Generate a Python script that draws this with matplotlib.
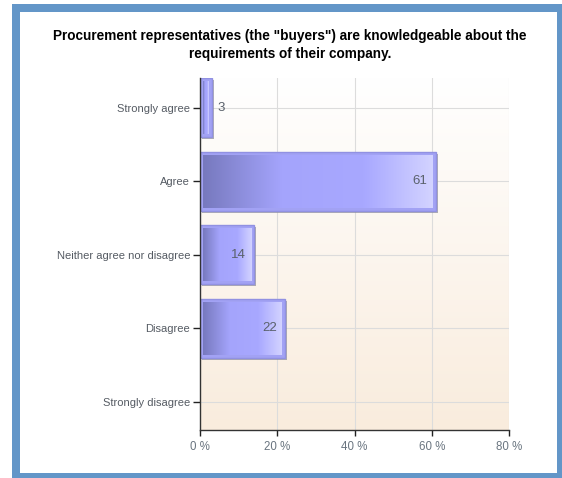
import numpy as np
import matplotlib
matplotlib.use("Agg")
import matplotlib.pyplot as plt
import matplotlib.transforms as mtransforms
from matplotlib.patches import Rectangle
from matplotlib.colors import LinearSegmentedColormap

categories = ["Strongly agree", "Agree", "Neither agree nor disagree",
              "Disagree", "Strongly disagree"]
percentages = [3, 61, 14, 22, 0]
x_ticks = [0, 20, 40, 60, 80]
x_tick_labels = ["0 %", "20 %", "40 %", "60 %", "80 %"]
title = ('Procurement representatives (the "buyers") are knowledgeable about the\n'
         'requirements of their company.')

plt.rcParams['font.family'] = ['Liberation Sans', 'DejaVu Sans']

W, H = 562, 478
fig = plt.figure(figsize=(W / 100, H / 100), dpi=100)

# blue frame with white panel inside
fig.patches.append(Rectangle((12 / W, 0), 1, (H - 4) / H, transform=fig.transFigure,
                             facecolor="#6396C8", edgecolor="none", zorder=-3))
fig.patches.append(Rectangle((20 / W, 5 / H), 537 / W, 461 / H, transform=fig.transFigure,
                             facecolor="white", edgecolor="none", zorder=-2))

fig.text(290 / W, 1 - 45 / H, title, ha="center", va="center", fontsize=9.8,
         fontweight="bold", color="black", linespacing=1.3)

ax = fig.add_axes([200 / W, 48 / H, 309 / W, 352 / H])
ax.patch.set_alpha(0)

# plot area background: white at the top fading to a light peach
top = np.array([255, 255, 255]) / 255
bottom = np.array([249, 236, 221]) / 255
t = np.linspace(0, 1, 256)[:, None, None]
bg = top * (1 - t) + bottom * t
ax.imshow(bg, extent=[0, 1, 0, 1], transform=ax.transAxes, aspect="auto",
          zorder=0, interpolation="bilinear")

xmin, xmax = 0, 80
ytop, ybot = -0.404, 4.385
ax.set_xlim(xmin, xmax)
ax.set_ylim(ybot, ytop)

# pixel -> data conversions for the insets
px_x = (xmax - xmin) / 309
px_y = (ybot - ytop) / 352

bar_cmap = LinearSegmentedColormap.from_list(
    "bar", [(0, "#7779BE"), (0.34, "#A4A4FC"), (0.7, "#A8A8FF"), (1.0, "#D3D3FF")])
grad = bar_cmap(np.linspace(0, 1, 256))[None, :, :]

shadow_tr = mtransforms.offset_copy(ax.transData, fig, x=2, y=-2, units="dots")
bh = 0.8
for i, v in enumerate(percentages):
    if v <= 0:
        continue
    ax.add_patch(Rectangle((0, i - bh / 2), v, bh, transform=shadow_tr,
                           facecolor="#8c8c96", edgecolor="none", alpha=0.7, zorder=2))
    ax.add_patch(Rectangle((0, i - bh / 2), v, bh, facecolor="#A2A2F4",
                           edgecolor="#9191E2", lw=1, zorder=3))
    ax.imshow(grad, extent=[3 * px_x, v - 3 * px_x, i + bh / 2 - 3 * px_y, i - bh / 2 + 3 * px_y],
              aspect="auto", zorder=4, interpolation="bilinear")
    if v >= 5:
        ax.text(v - 8 * px_x, i, str(v), ha="right", va="center", fontsize=9.5,
                color="#5A616B", zorder=5)
    else:
        ax.text(v + 6 * px_x, i, str(v), ha="left", va="center", fontsize=9.5,
                color="#5A616B", zorder=5)

ax.set_xlim(xmin, xmax)
ax.set_ylim(ybot, ytop)

ax.set_yticks(range(len(categories)))
ax.set_yticklabels(categories)
ax.set_xticks(x_ticks)
ax.set_xticklabels(x_tick_labels)

ax.set_axisbelow(True)
ax.grid(True, color="#DCDCDC", lw=0.8, zorder=1)
for s in ["top", "right"]:
    ax.spines[s].set_visible(False)
for s in ["left", "bottom"]:
    ax.spines[s].set_color("#333333")
    ax.spines[s].set_linewidth(1)
    ax.spines[s].set_zorder(6)

ax.tick_params(axis="y", length=5, width=1, color="#222222", labelcolor="#555B63",
               labelsize=8, pad=2)
ax.tick_params(axis="x", length=4, width=1, color="#222222", labelcolor="#6A7580",
               labelsize=8.3, pad=4)

fig.savefig("out.png", dpi=100)
